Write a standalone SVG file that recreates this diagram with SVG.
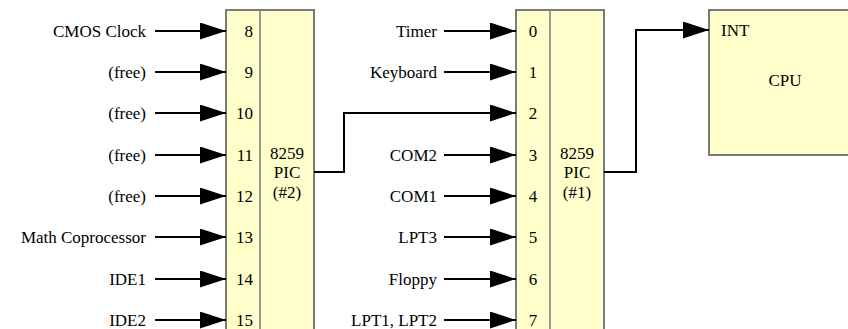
<svg xmlns="http://www.w3.org/2000/svg" width="848" height="329" viewBox="0 0 848 329">
<style>
text{font-family:'Liberation Serif','DejaVu Serif',serif;font-size:17px;fill:#000}
.lbl{text-anchor:end}
.mid{text-anchor:middle}
.box{fill:#ffffcc;stroke:#7a7a7a;stroke-width:2}
.div{stroke:#7a7a7a;stroke-width:1.5}
.ln{fill:none;stroke:#000;stroke-width:2}
</style>
<defs>
<marker id="ah" markerWidth="26" markerHeight="17" refX="26" refY="8.5" orient="auto" markerUnits="userSpaceOnUse">
<path d="M0,0 L26,8.5 L0,17 Z" fill="#000"/>
</marker>
</defs>
<g id="pic2">
<rect class="box" x="226" y="10" width="88" height="330"/>
<line class="div" x1="260" y1="10" x2="260" y2="340"/>
<g class="lbl">
<text x="253" y="37">8</text>
<text x="253" y="78">9</text>
<text x="253" y="119">10</text>
<text x="253" y="161">11</text>
<text x="253" y="202">12</text>
<text x="253" y="243">13</text>
<text x="253" y="285">14</text>
<text x="253" y="326">15</text>
</g>
<g class="mid">
<text x="287" y="159">8259</text>
<text x="287" y="178">PIC</text>
<text x="287" y="198">(#2)</text>
</g>
</g>
<g id="pic1">
<rect class="box" x="516" y="10" width="88" height="330"/>
<line class="div" x1="550" y1="10" x2="550" y2="340"/>
<g class="mid">
<text x="533" y="37">0</text>
<text x="533" y="78">1</text>
<text x="533" y="119">2</text>
<text x="533" y="161">3</text>
<text x="533" y="202">4</text>
<text x="533" y="243">5</text>
<text x="533" y="285">6</text>
<text x="533" y="326">7</text>
</g>
<g class="mid">
<text x="577" y="159">8259</text>
<text x="577" y="178">PIC</text>
<text x="577" y="198">(#1)</text>
</g>
</g>
<g id="cpu">
<rect class="box" x="709" y="10" width="160" height="145"/>
<text x="721" y="36">INT</text>
<text class="mid" x="785" y="86">CPU</text>
</g>
<g id="labels">
<g class="lbl">
<text x="146" y="37">CMOS Clock</text>
<text x="146" y="78">(free)</text>
<text x="146" y="119">(free)</text>
<text x="146" y="161">(free)</text>
<text x="146" y="202">(free)</text>
<text x="146" y="243">Math Coprocessor</text>
<text x="146" y="285">IDE1</text>
<text x="146" y="326">IDE2</text>
<text x="437" y="37">Timer</text>
<text x="437" y="78">Keyboard</text>
<text x="437" y="161">COM2</text>
<text x="437" y="202">COM1</text>
<text x="437" y="243">LPT3</text>
<text x="437" y="285">Floppy</text>
<text x="437" y="326">LPT1, LPT2</text>
</g>
</g>
<g id="connectors" class="ln" marker-end="url(#ah)">
<line x1="155" y1="31" x2="226" y2="31"/>
<line x1="155" y1="72" x2="226" y2="72"/>
<line x1="155" y1="113" x2="226" y2="113"/>
<line x1="155" y1="155" x2="226" y2="155"/>
<line x1="155" y1="196" x2="226" y2="196"/>
<line x1="155" y1="237" x2="226" y2="237"/>
<line x1="155" y1="279" x2="226" y2="279"/>
<line x1="155" y1="320" x2="226" y2="320"/>
<line x1="444" y1="31" x2="516" y2="31"/>
<line x1="444" y1="72" x2="516" y2="72"/>
<line x1="444" y1="155" x2="516" y2="155"/>
<line x1="444" y1="196" x2="516" y2="196"/>
<line x1="444" y1="237" x2="516" y2="237"/>
<line x1="444" y1="279" x2="516" y2="279"/>
<line x1="444" y1="320" x2="516" y2="320"/>
<polyline points="314,172 344,172 344,113 516,113"/>
<polyline points="604,172 636,172 636,30 709,30"/>
</g>
</svg>
